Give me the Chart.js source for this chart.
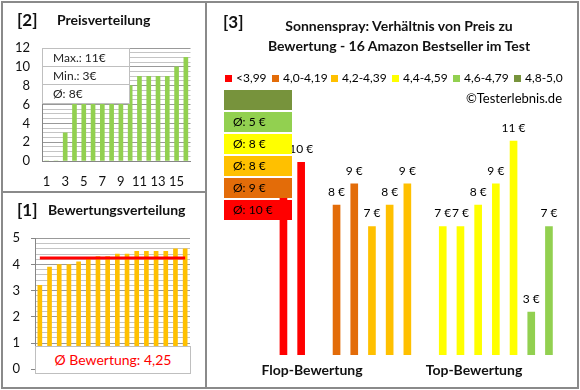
<!DOCTYPE html>
<html><head><meta charset="utf-8">
<script src="https://cdn.jsdelivr.net/npm/chart.js@4/dist/chart.umd.min.js"></script>
<style>
html,body{margin:0;padding:0;background:#fff;}
#root{position:relative;width:580px;height:390px;overflow:hidden;font-family:Lato,"Open Sans",sans-serif;color:#111;}
.frame{position:absolute;border:2px solid #8a8a8a;box-sizing:border-box;}
.t{position:absolute;white-space:nowrap;}
canvas{position:absolute;}
.pbox{position:absolute;left:42px;top:48px;width:88px;height:56px;background:#fff;border:1px solid #bfbfbf;box-sizing:border-box;}
.pbox div{height:18px;line-height:18px;padding-left:10px;font-size:12px;color:#222;border-bottom:1px solid #bfbfbf;box-sizing:border-box;}
.pbox div:last-child{border-bottom:none;}
.abox{position:absolute;left:224px;width:68px;height:20px;line-height:20px;font-size:12px;color:#000;padding-left:9px;box-sizing:border-box;}
.leg{position:absolute;top:70px;font-size:12px;line-height:16px;color:#000;white-space:nowrap;}
.leg i{display:inline-block;width:7px;height:7px;margin-right:4px;vertical-align:0px;}
</style></head>
<body><div id="root">

<canvas id="c2" width="203" height="189" style="left:2px;top:2px"></canvas>
<canvas id="c1" width="203" height="196" style="left:2px;top:192px"></canvas>
<canvas id="c3" width="371" height="385" style="left:206px;top:2px"></canvas>

<div class="frame" style="left:1px;top:1px;width:206px;height:192px"></div>
<div class="frame" style="left:1px;top:191px;width:206px;height:198px"></div>
<div class="frame" style="left:205px;top:1px;width:374px;height:388px"></div>

<!-- panel 2 -->
<div class="t" style="left:17px;top:9px;font-size:17px;font-weight:bold;line-height:22px">[2]</div>
<div class="t" style="left:57px;top:10px;font-size:14px;font-weight:bold;line-height:20px">Preisverteilung</div>
<div class="pbox" id="pbox"></div>

<!-- panel 1 -->
<div class="t" style="left:17px;top:199px;font-size:17px;font-weight:bold;line-height:22px">[1]</div>
<div class="t" style="left:48px;top:200px;font-size:14px;font-weight:bold;line-height:20px">Bewertungsverteilung</div>
<div id="rbox" style="position:absolute;left:35px;top:346px;width:156px;height:28px;background:#fff;border:1px solid #bfbfbf;box-sizing:border-box;text-align:center;line-height:26px;font-size:14px;color:#FF0000;"></div>

<!-- panel 3 -->
<div class="t" style="left:223px;top:11px;font-size:17px;font-weight:bold;line-height:22px">[3]</div>
<div class="t" style="left:249px;top:16px;width:300px;text-align:center;font-size:14px;font-weight:bold;line-height:20px">Sonnenspray: Verhältnis von Preis zu<br>Bewertung - 16 Amazon Bestseller im Test</div>
<div id="legend"></div>
<div class="t" style="left:440px;top:89px;width:122px;text-align:right;font-size:13px;line-height:18px;color:#000">©Testerlebnis.de</div>
<div id="avgboxes"></div>
<div class="t" style="left:252px;top:360px;width:120px;text-align:center;font-size:14px;font-weight:bold;line-height:20px">Flop-Bewertung</div>
<div class="t" style="left:414px;top:360px;width:120px;text-align:center;font-size:14px;font-weight:bold;line-height:20px">Top-Bewertung</div>

</div>
<script>
// ---------- DATA ----------
// [2] Preisverteilung: 16 products sorted by price (€)
const priceIdx = ['1','2','3','4','5','6','7','8','9','10','11','12','13','14','15','16'];
const prices = [0,0,3,7,7,7,7,8,8,8,9,9,9,9,10,11];
const priceStats = ['Max.: 11€','Min.: 3€','Ø: 8€'];

// [1] Bewertungsverteilung: 16 ratings sorted
const ratingIdx = ['1','2','3','4','5','6','7','8','9','10','11','12','13','14','15','16'];
const ratings = [3.2,3.9,4.0,4.0,4.1,4.2,4.3,4.3,4.4,4.4,4.5,4.5,4.5,4.5,4.6,4.6];
const avgRating = 4.25;
const avgRatingText = 'Ø Bewertung: 4,25';

// [3] price by rating band
const ratingBands = ['<3,99','4,0-4,19','4,2-4,39','4,4-4,59','4,6-4,79','4,8-5,0'];
const bandAvgLabels = ['Ø: 10 €','Ø: 9 €','Ø: 8 €','Ø: 8 €','Ø: 5 €',''];
const slots = ['s0','s1','s2','s3','s4','s5','s6','s7','s8','s9','s10','s11','s12','s13','s14','s15','s16','s17','s18'];
const slotPrices = [null,null,null,9,10,null,8,9,7,8,9,null,7,7,8,9,11,3,7];
const slotBand   = [null,null,null,0,0,null,1,1,2,2,2,null,3,3,3,3,3,4,4];

// ---------- STYLES ----------
const bandColors = ['#FF0000','#E36C09','#FFC000','#FFFF00','#92D050','#77933C'];
const FONT = 'Lato';

// ---------- HTML parts ----------
document.getElementById('pbox').innerHTML = priceStats.map(s=>'<div>'+s+'</div>').join('');
document.getElementById('rbox').textContent = avgRatingText;
const legX = [225,272,331,392,453,514];
document.getElementById('legend').innerHTML = ratingBands.map((b,i)=>
  '<div class="leg" style="left:'+legX[i]+'px"><i style="background:'+bandColors[i]+'"></i>'+b+'</div>').join('');
let ab='';
for(let i=5;i>=0;i--){
  const k=5-i;
  ab+='<div class="abox" style="top:'+(90+k*22)+'px;background:'+bandColors[i]+'">'+bandAvgLabels[i]+'</div>';
}
document.getElementById('avgboxes').innerHTML=ab;

const isMajor=(v,step)=>Math.abs(v/step-Math.round(v/step))<1e-6;

// ---------- Chart [2] ----------
new Chart(document.getElementById('c2'),{
  type:'bar',
  data:{labels:priceIdx,datasets:[{data:prices,backgroundColor:'#92D050',barThickness:4}]},
  options:{responsive:false,animation:false,devicePixelRatio:1,
    layout:{padding:{top:46,right:14.5,left:0,bottom:0}},
    plugins:{legend:{display:false},tooltip:{enabled:false}},
    scales:{
      x:{grid:{display:false,drawTicks:false},border:{color:'#868686'},
         ticks:{autoSkip:false,maxRotation:0,minRotation:0,padding:13,color:'#111',font:{family:FONT,size:13},
           callback:(v,i)=> i%2===0?priceIdx[i]:''},
         afterFit:s=>{s.height=30;}},
      y:{min:0,max:12,grid:{drawTicks:false,color:c=>isMajor(c.tick.value,2)?'#999':'#c4c4c4'},
         border:{color:'#868686'},
         ticks:{stepSize:0.5,autoSkip:false,padding:12,color:'#111',font:{family:FONT,size:13},
           callback:v=>isMajor(v,2)?Math.round(v):''},
         afterFit:s=>{s.width=40;}}
    }}
});

// ---------- Chart [1] ----------
new Chart(document.getElementById('c1'),{
  type:'bar',
  data:{labels:ratingIdx,datasets:[
    {type:'line',data:ratings.map(()=>avgRating),borderColor:'#FF0000',borderWidth:3,pointRadius:0,order:0},
    {data:ratings,backgroundColor:'#FFC000',barThickness:4,order:1}
  ]},
  options:{responsive:false,animation:false,devicePixelRatio:1,
    layout:{padding:{top:46.3,right:15,left:0,bottom:14.7}},
    plugins:{legend:{display:false},tooltip:{enabled:false}},
    scales:{
      x:{grid:{display:false,drawTicks:false},border:{color:'#868686'},ticks:{display:false},afterFit:s=>{s.height=0;}},
      y:{min:0,max:5,grid:{tickLength:4,color:c=>isMajor(c.tick.value,1)?'#999':'#c4c4c4',
           tickColor:c=>isMajor(c.tick.value,1)?'#868686':'rgba(0,0,0,0)'},
         border:{color:'#868686'},
         ticks:{stepSize:0.2,autoSkip:false,padding:11,color:'#111',font:{family:FONT,size:13},
           callback:v=>isMajor(v,1)?Math.round(v):''},
         afterFit:s=>{s.width=33;}}
    }}
});

// ---------- Chart [3] ----------
const valueLabels={id:'valueLabels',afterDatasetsDraw(chart){
  const ctx=chart.ctx, meta=chart.getDatasetMeta(0);
  ctx.save();ctx.font='12px '+FONT;ctx.fillStyle='#000';ctx.textAlign='center';ctx.textBaseline='middle';
  meta.data.forEach((bar,i)=>{const v=slotPrices[i]; if(v==null)return; ctx.fillText(v+' €',bar.x,bar.y-13);});
  ctx.restore();
}};
new Chart(document.getElementById('c3'),{
  type:'bar',
  data:{labels:slots,datasets:[{data:slotPrices,
    backgroundColor:slotBand.map(b=>b==null?'rgba(0,0,0,0)':bandColors[b]),barThickness:7}]},
  options:{responsive:false,animation:false,devicePixelRatio:1,
    layout:{padding:{top:117.6,right:19.2,left:15.5,bottom:32}},
    plugins:{legend:{display:false},tooltip:{enabled:false}},
    scales:{x:{display:false},y:{display:false,min:1,max:12}}
  },
  plugins:[valueLabels]
});
</script>
</body></html>
